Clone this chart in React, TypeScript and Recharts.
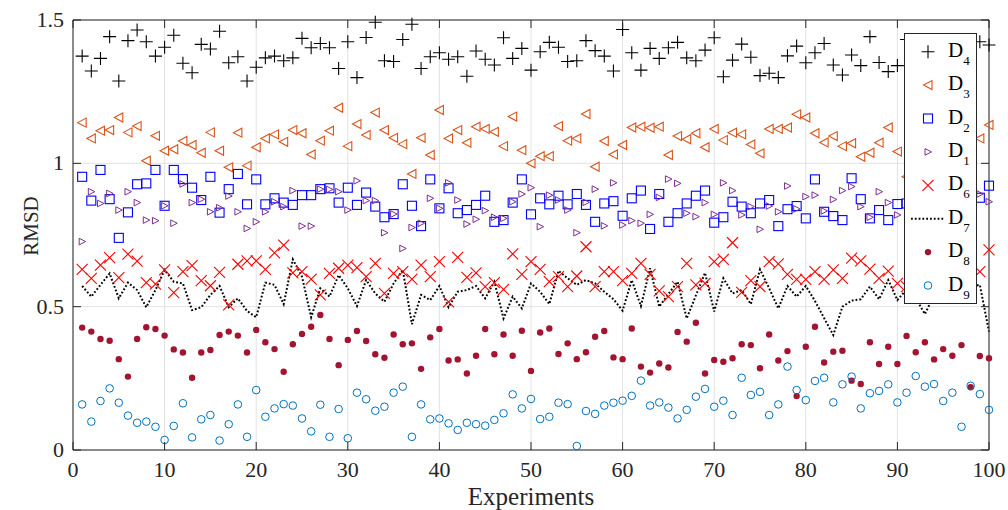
import React from "react";
import { ComposedChart, Scatter, Line, XAxis, YAxis, CartesianGrid, ReferenceLine } from "recharts";

const experiments = [
  1, 2, 3, 4, 5, 6, 7, 8, 9, 10, 11, 12, 13, 14, 15, 16, 17, 18, 19, 20,
  21, 22, 23, 24, 25, 26, 27, 28, 29, 30, 31, 32, 33, 34, 35, 36, 37, 38, 39, 40,
  41, 42, 43, 44, 45, 46, 47, 48, 49, 50, 51, 52, 53, 54, 55, 56, 57, 58, 59, 60,
  61, 62, 63, 64, 65, 66, 67, 68, 69, 70, 71, 72, 73, 74, 75, 76, 77, 78, 79, 80,
  81, 82, 83, 84, 85, 86, 87, 88, 89, 90, 91, 92, 93, 94, 95, 96, 97, 98, 99, 100,
];

// points hidden behind the legend box are left as null
const d4 = [
  1.374, 1.322, 1.366, 1.442, 1.287, 1.428, 1.465, 1.424, 1.374, 1.405, 1.447, 1.349, 1.316, 1.415, 1.399, 1.461, 1.351, 1.372, 1.287, 1.335,
  1.368, 1.374, 1.358, 1.368, 1.436, 1.403, 1.418, 1.403, 1.331, 1.424, 1.299, 1.439, 1.492, 1.358, 1.355, 1.432, 1.485, 1.331, 1.372, 1.386,
  1.363, 1.372, 1.304, 1.392, 1.363, 1.343, 1.438, 1.366, 1.401, 1.325, 1.389, 1.422, 1.405, 1.355, 1.358, 1.428, 1.393, 1.374, 1.322, 1.467,
  1.386, 1.325, 1.401, 1.366, 1.403, 1.422, 1.368, 1.358, 1.395, 1.438, 1.302, 1.36, 1.416, 1.37, 1.306, 1.314, 1.299, 1.375, 1.409, 1.351,
  1.386, 1.418, 1.343, 1.308, 1.378, 1.341, 1.442, 1.352, 1.32, 1.341, 1.432, null, null, null, null, null, null, null, 1.424, 1.413,
];
const d3 = [
  1.142, 1.087, 1.114, 1.116, 1.16, 1.108, 1.13, 1.009, 1.096, 1.044, 1.049, 1.078, 1.064, 1.037, 1.108, 1.044, 0.986, 1.107, 0.992, 1.056,
  1.087, 1.101, 1.075, 1.116, 1.105, 1.031, 1.079, 1.114, 1.194, 1.06, 1.137, 1.099, 1.177, 1.116, 1.089, 1.067, 0.963, 1.089, 1.029, 1.186,
  1.087, 1.116, 1.072, 1.128, 1.12, 1.11, 1.06, 1.163, 1.046, 1.0, 1.025, 1.025, 1.13, 1.079, 1.087, 1.172, 0.988, 1.078, 1.031, 1.064,
  1.125, 1.128, 1.124, 1.128, 1.029, 1.095, 1.084, 1.105, 1.056, 1.12, 1.081, 1.107, 1.101, 1.066, 1.035, 1.12, 1.12, 1.125, 1.171, 1.16,
  1.105, 1.073, 1.095, 1.06, 1.07, 1.023, 1.037, 1.072, 1.125, 1.041, 0.953, null, null, null, null, null, null, null, 1.087, 1.134,
];
const d2 = [
  0.953, 0.87, 0.977, 0.875, 0.74, 0.829, 0.927, 0.93, 0.977, 0.852, 0.977, 0.945, 0.915, 0.872, 0.953, 0.828, 0.91, 0.963, 0.857, 0.944,
  0.857, 0.878, 0.863, 0.855, 0.889, 0.889, 0.91, 0.913, 0.863, 0.915, 0.855, 0.898, 0.849, 0.812, 0.823, 0.927, 0.852, 0.781, 0.944, 0.843,
  0.913, 0.826, 0.837, 0.855, 0.887, 0.796, 0.802, 0.863, 0.944, 0.822, 0.878, 0.857, 0.887, 0.857, 0.893, 0.855, 0.796, 0.86, 0.868, 0.817,
  0.878, 0.905, 0.771, 0.893, 0.796, 0.826, 0.86, 0.887, 0.905, 0.793, 0.812, 0.866, 0.849, 0.826, 0.86, 0.872, 0.781, 0.84, 0.851, 0.808,
  0.944, 0.831, 0.816, 0.802, 0.948, 0.875, 0.808, 0.837, 0.802, 0.858, 0.86, null, null, null, null, null, null, null, 0.88, 0.922,
];
const d1 = [
  0.727, 0.901, 0.86, 0.895, 0.837, 0.901, 0.863, 0.802, 0.8, 0.852, 0.791, 0.928, 0.863, 0.875, 0.831, 0.845, 0.886, 0.831, 0.773, 0.796,
  0.831, 0.866, 0.849, 0.905, 0.781, 0.781, 0.91, 0.909, 0.901, 0.837, 0.939, 0.87, 0.87, 0.758, 0.823, 0.703, 0.776, 0.791, 0.878, 0.843,
  0.932, 0.872, 0.788, 0.805, 0.835, 0.812, 0.808, 0.866, 0.893, 0.915, 0.779, 0.889, 0.872, 0.837, 0.758, 0.864, 0.91, 0.782, 0.932, 0.785,
  0.8, 0.791, 0.822, 0.881, 0.945, 0.93, 0.826, 0.814, 0.863, 0.822, 0.932, 0.905, 0.82, 0.849, 0.77, 0.851, 0.831, 0.921, 0.841, 0.884,
  0.889, 0.834, 0.874, 0.905, 0.919, 0.849, 0.812, 0.901, 0.863, 0.82, null, null, null, null, null, null, null, null, 0.893, 0.866,
];
const d6 = [
  0.63, 0.599, 0.645, 0.671, 0.601, 0.683, 0.659, 0.584, 0.579, 0.628, 0.549, 0.622, 0.643, 0.591, 0.573, 0.62, 0.506, 0.648, 0.66, 0.66,
  0.63, 0.688, 0.715, 0.618, 0.622, 0.596, 0.541, 0.616, 0.634, 0.645, 0.636, 0.605, 0.651, 0.546, 0.616, 0.622, 0.596, 0.645, 0.605, 0.657,
  0.517, 0.672, 0.602, 0.618, 0.57, 0.584, 0.56, 0.684, 0.613, 0.657, 0.63, 0.587, 0.605, 0.57, 0.607, 0.709, 0.57, 0.622, 0.622, 0.591,
  0.616, 0.651, 0.613, 0.555, 0.535, 0.57, 0.651, 0.576, 0.581, 0.657, 0.665, 0.723, 0.55, 0.591, 0.57, 0.657, 0.649, 0.613, 0.595, 0.595,
  0.622, 0.595, 0.628, 0.599, 0.669, 0.66, 0.631, 0.599, 0.624, 0.581, 0.57, null, null, null, null, null, null, null, 0.622, 0.698,
];
const d7 = [
  0.572, 0.535, 0.576, 0.616, 0.529, 0.584, 0.558, 0.498, 0.558, 0.628, 0.587, 0.581, 0.488, 0.498, 0.541, 0.572, 0.498, 0.529, 0.485, 0.463,
  0.584, 0.576, 0.509, 0.665, 0.605, 0.463, 0.564, 0.535, 0.61, 0.564, 0.502, 0.593, 0.546, 0.517, 0.581, 0.628, 0.439, 0.541, 0.523, 0.572,
  0.498, 0.552, 0.558, 0.572, 0.529, 0.587, 0.459, 0.535, 0.494, 0.581, 0.552, 0.509, 0.625, 0.599, 0.576, 0.593, 0.581, 0.552, 0.526, 0.486,
  0.593, 0.502, 0.634, 0.5, 0.544, 0.587, 0.459, 0.539, 0.618, 0.483, 0.599, 0.546, 0.558, 0.509, 0.63, 0.564, 0.494, 0.572, 0.535, 0.572,
  0.52, 0.46, 0.401, 0.5, 0.521, 0.526, 0.57, 0.526, 0.593, 0.523, 0.56, 0.53, 0.474, 0.54, 0.58, 0.55, 0.6, 0.57, 0.576, 0.413,
];
const d8 = [
  0.427, 0.413, 0.387, 0.381, 0.317, 0.256, 0.387, 0.428, 0.422, 0.399, 0.351, 0.34, 0.252, 0.34, 0.349, 0.401, 0.413, 0.399, 0.34, 0.419,
  0.376, 0.352, 0.273, 0.369, 0.405, 0.43, 0.471, 0.387, 0.296, 0.384, 0.415, 0.38, 0.334, 0.322, 0.403, 0.369, 0.372, 0.283, 0.393, 0.422,
  0.312, 0.316, 0.267, 0.329, 0.422, 0.334, 0.403, 0.329, 0.416, 0.276, 0.41, 0.424, 0.335, 0.372, 0.317, 0.341, 0.395, 0.415, 0.323, 0.317,
  0.424, 0.291, 0.27, 0.302, 0.288, 0.412, 0.378, 0.444, 0.267, 0.314, 0.308, 0.32, 0.369, 0.366, 0.285, 0.403, 0.312, 0.345, 0.188, 0.36,
  0.43, 0.305, 0.343, 0.346, 0.242, 0.23, 0.376, 0.3, 0.36, 0.3, 0.398, 0.341, 0.376, 0.316, 0.352, 0.329, 0.366, 0.219, 0.328, 0.32,
];
const d9 = [
  0.159, 0.099, 0.171, 0.215, 0.165, 0.12, 0.095, 0.099, 0.081, 0.035, 0.084, 0.163, 0.044, 0.107, 0.122, 0.033, 0.09, 0.159, 0.046, 0.209,
  0.116, 0.145, 0.16, 0.155, 0.11, 0.065, 0.158, 0.046, 0.143, 0.041, 0.2, 0.177, 0.137, 0.151, 0.2, 0.221, 0.046, 0.159, 0.107, 0.11,
  0.093, 0.07, 0.095, 0.09, 0.085, 0.105, 0.128, 0.194, 0.145, 0.178, 0.108, 0.116, 0.165, 0.16, 0.014, 0.136, 0.126, 0.155, 0.165, 0.172,
  0.189, 0.242, 0.155, 0.166, 0.148, 0.11, 0.14, 0.186, 0.213, 0.151, 0.172, 0.122, 0.252, 0.192, 0.203, 0.122, 0.159, 0.291, 0.209, 0.174,
  0.241, 0.252, 0.166, 0.229, 0.256, 0.145, 0.198, 0.206, 0.229, 0.166, 0.2, 0.258, 0.221, 0.23, 0.171, 0.2, 0.081, 0.224, 0.195, 0.14,
];

const xTicks = [0, 10, 20, 30, 40, 50, 60, 70, 80, 90, 100];
const yTicks = [0, 0.5, 1, 1.5];

const W = 1008;
const H = 510;
const margin = { top: 20, right: 19, left: 0, bottom: 0 };
const Y_AXIS_W = 73;
const X_AXIS_H = 60;
const PLOT_TOP = margin.top;
const PLOT_BOTTOM = H - X_AXIS_H;
const PLOT_LEFT = Y_AXIS_W;
const PLOT_RIGHT = W - margin.right;
const TICK_LEN = 8;
const AXIS_COLOR = "#262626";
const FONT = '"Liberation Serif", "Times New Roman", serif';

const toPoints = (ys: (number | null)[]) =>
  experiments.map((x, i) => ({ x, y: ys[i] })).filter((p) => p.y !== null);

const lineData = experiments.map((x, i) => ({ x, d7: d7[i] }));

const ok = (v: any) => typeof v === "number" && isFinite(v);

const plusMark = (cx: number, cy: number) => (
  <path d={`M${cx - 6.5} ${cy}H${cx + 6.5}M${cx} ${cy - 6.5}V${cy + 6.5}`} stroke="#000" strokeWidth={1.1} fill="none" />
);
const triLeftMark = (cx: number, cy: number) => (
  <polygon points={`${cx - 4.5},${cy} ${cx + 4},${cy - 4.5} ${cx + 4},${cy + 4.5}`} stroke="#D95319" strokeWidth={1.1} fill="none" />
);
const squareMark = (cx: number, cy: number) => (
  <rect x={cx - 4.5} y={cy - 4.5} width={9} height={9} stroke="#0000FF" strokeWidth={1.1} fill="none" />
);
const triRightMark = (cx: number, cy: number) => (
  <polygon points={`${cx + 3.5},${cy} ${cx - 3},${cy - 3.3} ${cx - 3},${cy + 3.3}`} stroke="#7E2F8E" strokeWidth={1} fill="none" />
);
const crossMark = (cx: number, cy: number) => (
  <path d={`M${cx - 5.5} ${cy - 5.5}L${cx + 5.5} ${cy + 5.5}M${cx - 5.5} ${cy + 5.5}L${cx + 5.5} ${cy - 5.5}`} stroke="#FF0000" strokeWidth={1.1} fill="none" />
);
const dotMark = (cx: number, cy: number) => <circle cx={cx} cy={cy} r={3.2} fill="#A2142F" />;
const ringMark = (cx: number, cy: number) => (
  <circle cx={cx} cy={cy} r={3.8} stroke="#0072BD" strokeWidth={1} fill="none" />
);

const shapeOf = (mark: (cx: number, cy: number) => React.ReactElement) => (p: any) =>
  ok(p.cx) && ok(p.cy) ? mark(p.cx, p.cy) : <g />;

const XTick = (p: any) => {
  const { x, payload } = p;
  return (
    <g>
      <line x1={x} x2={x} y1={PLOT_BOTTOM} y2={PLOT_BOTTOM - TICK_LEN} stroke={AXIS_COLOR} />
      <line x1={x} x2={x} y1={PLOT_TOP} y2={PLOT_TOP + TICK_LEN} stroke={AXIS_COLOR} />
      <text x={x} y={PLOT_BOTTOM + 27} textAnchor="middle" fill={AXIS_COLOR} fontSize={22} fontFamily={FONT}>
        {payload.value}
      </text>
    </g>
  );
};

const YTick = (p: any) => {
  const { y, payload } = p;
  return (
    <g>
      <line x1={PLOT_LEFT} x2={PLOT_LEFT + TICK_LEN} y1={y} y2={y} stroke={AXIS_COLOR} />
      <line x1={PLOT_RIGHT} x2={PLOT_RIGHT - TICK_LEN} y1={y} y2={y} stroke={AXIS_COLOR} />
      <text x={PLOT_LEFT - 9} y={y + 7} textAnchor="end" fill={AXIS_COLOR} fontSize={22} fontFamily={FONT}>
        {payload.value}
      </text>
    </g>
  );
};

const RmsdLabel = () => (
  <text
    x={31}
    y={226}
    transform="rotate(-90 31 226)"
    textAnchor="middle"
    dominantBaseline="central"
    fill={AXIS_COLOR}
    fontSize={21}
    fontFamily={FONT}
  >
    RMSD
  </text>
);

const legendItems = [
  { label: "4", mark: plusMark },
  { label: "3", mark: triLeftMark },
  { label: "2", mark: squareMark },
  { label: "1", mark: triRightMark },
  { label: "6", mark: crossMark },
  { label: "7", mark: null },
  { label: "8", mark: dotMark },
  { label: "9", mark: ringMark },
];

const Legend = () => (
  <div
    style={{
      position: "absolute",
      left: 904,
      top: 33,
      width: 73,
      height: 271,
      boxSizing: "border-box",
      border: `1px solid ${AXIS_COLOR}`,
      background: "#fff",
      zIndex: 2,
    }}
  >
    <svg width={71} height={269} style={{ display: "block" }}>
      {legendItems.map((it, i) => {
        const cy = 17.7 + i * 33.4;
        return (
          <g key={it.label}>
            {it.mark ? (
              it.mark(23, cy)
            ) : (
              <line x1={6} x2={39} y1={cy} y2={cy} stroke="#000" strokeWidth={2} strokeDasharray="1.8 2" />
            )}
            <text x={43} y={cy + 5} fill="#000" fontSize={21} fontFamily={FONT}>
              D
              <tspan dy={8} fontSize={13}>
                {it.label}
              </tspan>
            </text>
          </g>
        );
      })}
    </svg>
  </div>
);

const App: React.FC = () => {
  return (
    <div style={{ position: "absolute", left: 0, top: 0, width: W, height: H, background: "#fff" }}>
      <ComposedChart width={W} height={H} data={lineData} margin={margin}>
        <CartesianGrid stroke="#e2e2e2" />
        <Scatter data={toPoints(d4)} dataKey="y" shape={shapeOf(plusMark)} isAnimationActive={false} />
        <Scatter data={toPoints(d3)} dataKey="y" shape={shapeOf(triLeftMark)} isAnimationActive={false} />
        <Scatter data={toPoints(d2)} dataKey="y" shape={shapeOf(squareMark)} isAnimationActive={false} />
        <Scatter data={toPoints(d1)} dataKey="y" shape={shapeOf(triRightMark)} isAnimationActive={false} />
        <Scatter data={toPoints(d6)} dataKey="y" shape={shapeOf(crossMark)} isAnimationActive={false} />
        <Line
          dataKey="d7"
          type="linear"
          stroke="#000"
          strokeWidth={2}
          strokeDasharray="1.8 2"
          dot={false}
          activeDot={false}
          isAnimationActive={false}
        />
        <Scatter data={toPoints(d8)} dataKey="y" shape={shapeOf(dotMark)} isAnimationActive={false} />
        <Scatter data={toPoints(d9)} dataKey="y" shape={shapeOf(ringMark)} isAnimationActive={false} />
        <ReferenceLine y={1.5} stroke={AXIS_COLOR} />
        <ReferenceLine x={100} stroke={AXIS_COLOR} />
        <XAxis
          dataKey="x"
          type="number"
          domain={[0, 100]}
          ticks={xTicks}
          height={X_AXIS_H}
          tickLine={false}
          axisLine={{ stroke: AXIS_COLOR }}
          tick={(p: any) => <XTick {...p} />}
          label={{ value: "Experiments", position: "insideBottom", offset: 5, fill: AXIS_COLOR, fontSize: 25, fontFamily: FONT }}
        />
        <YAxis
          type="number"
          domain={[0, 1.5]}
          ticks={yTicks}
          width={Y_AXIS_W}
          tickLine={false}
          axisLine={{ stroke: AXIS_COLOR }}
          tick={(p: any) => <YTick {...p} />}
          label={{ content: () => <RmsdLabel /> }}
        />
      </ComposedChart>
      <Legend />
    </div>
  );
};

export default App;
